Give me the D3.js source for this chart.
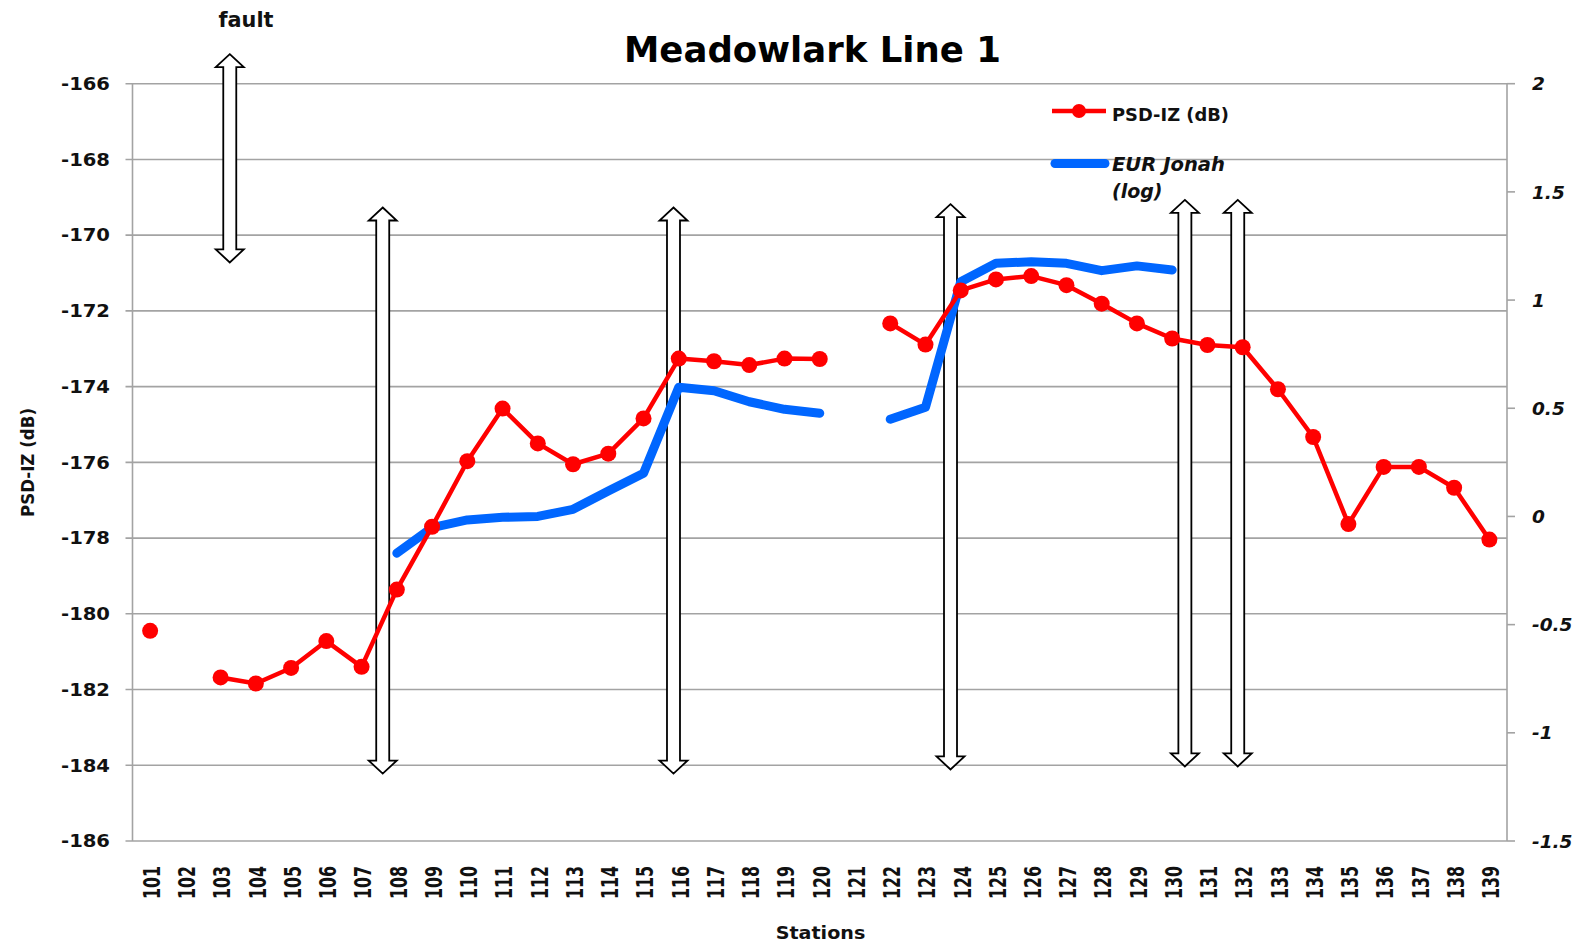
<!DOCTYPE html>
<html>
<head>
<meta charset="utf-8">
<script src="https://cdn.jsdelivr.net/npm/d3@7/dist/d3.min.js"></script>
<style>
  html, body { margin: 0; padding: 0; background: #ffffff; }
  svg { display: block; }
</style>
</head>
<body>
<svg id="chart" width="1596" height="942"></svg>
<script>
// ---------------- DATA ----------------
const stations = d3.range(101, 140).map(String);
const psdIZ = [
  -180.45, null, -181.68, -181.84, -181.43, -180.72, -181.40, -179.36, -177.70, -175.97,
  -174.58, -175.50, -176.05, -175.77, -174.84, -173.26, -173.33, -173.43, -173.26, -173.27,
  null, -172.33, -172.89, -171.46, -171.17, -171.08, -171.32, -171.81, -172.33, -172.73,
  -172.90, -172.96, -174.07, -175.33, -177.63, -176.12, -176.12, -176.67, -178.04
];
const eurJonah = [
  null, null, null, null, null, null, null, -0.170, -0.052, -0.016,
  -0.004, 0.000, 0.033, 0.118, 0.200, 0.597, 0.581, 0.530, 0.495, 0.477,
  null, 0.449, 0.505, 1.085, 1.170, 1.177, 1.170, 1.136, 1.158, 1.139,
  null, null, null, null, null, null, null, null, null
];
const leftTicks = [-166, -168, -170, -172, -174, -176, -178, -180, -182, -184, -186];
const rightTicks = [2, 1.5, 1, 0.5, 0, -0.5, -1, -1.5];
// annotation arrows: station position, top tip (dB), bottom tip (dB)
const arrowStation = [103.26, 107.6, 115.85, 123.71, 130.36, 131.86];
const arrowTop = [-165.22, -169.27, -169.27, -169.18, -169.07, -169.07];
const arrowBottom = [-170.72, -184.22, -184.22, -184.11, -184.03, -184.03];

// ---------------- LAYOUT ----------------
const L = 132.5, R = 1507, T = 83.7, B = 841;
const svg = d3.select("#chart");

const x = d3.scaleBand().domain(stations).range([L, R]).padding(0);
const xc = s => x(s) + x.bandwidth() / 2;
const xLin = d3.scaleLinear().domain([100.5, 139.5]).range([L, R]);
const yL = d3.scaleLinear().domain([-186, -166]).range([B, T]);
const yR = d3.scaleLinear().domain([-1.5, 2]).range([B, T]);

const gridColor = "#a3a3a3";

// gridlines + left ticks
svg.append("g").selectAll("line").data(leftTicks).join("line")
  .attr("x1", L - 7).attr("x2", R)
  .attr("y1", d => yL(d)).attr("y2", d => yL(d))
  .attr("stroke", gridColor).attr("stroke-width", 1.6);

// left axis line
svg.append("line").attr("x1", L).attr("x2", L).attr("y1", T).attr("y2", B)
  .attr("stroke", gridColor).attr("stroke-width", 1.6);
// right axis line + ticks
svg.append("line").attr("x1", R).attr("x2", R).attr("y1", T).attr("y2", B)
  .attr("stroke", gridColor).attr("stroke-width", 1.6);
svg.append("g").selectAll("line").data(rightTicks).join("line")
  .attr("x1", R).attr("x2", R + 8)
  .attr("y1", d => yR(d)).attr("y2", d => yR(d))
  .attr("stroke", gridColor).attr("stroke-width", 1.6);

// left tick labels
svg.append("g").selectAll("text").data(leftTicks).join("text")
  .attr("x", 110).attr("y", d => yL(d)).attr("dy", "0.36em")
  .attr("text-anchor", "end")
  .attr("font-family", "DejaVu Sans").attr("font-weight", "bold").attr("font-size", 17.5)
  .attr("textLength", 49).attr("lengthAdjust", "spacingAndGlyphs")
  .attr("fill", "#111")
  .text(d => String(d));

// right tick labels
svg.append("g").selectAll("text").data(rightTicks).join("text")
  .attr("x", 1532).attr("y", d => yR(d)).attr("dy", "0.36em")
  .attr("text-anchor", "start")
  .attr("font-family", "DejaVu Sans").attr("font-weight", "bold").attr("font-style", "italic")
  .attr("font-size", 18.5)
  .attr("fill", "#111")
  .text(d => String(d));

// x tick labels (rotated)
svg.append("g").selectAll("text").data(stations).join("text")
  .attr("transform", d => `translate(${xc(d) + 1.5},866) rotate(-90)`)
  .attr("dy", "0.36em")
  .attr("text-anchor", "end")
  .attr("font-family", "DejaVu Sans").attr("font-weight", "bold").attr("font-size", 23)
  .attr("textLength", 33).attr("lengthAdjust", "spacingAndGlyphs")
  .attr("fill", "#111")
  .text(d => d);

// arrows (hollow double-headed block arrows)
const hw = 14, sw = 6.5, hl = 13;
const arrowData = arrowStation.map((s, i) => ({ s, top: arrowTop[i], bot: arrowBottom[i] }));
svg.append("g").selectAll("path").data(arrowData).join("path")
  .attr("d", d => {
    const cx = xLin(d.s), yt = yL(d.top), yb = yL(d.bot);
    const pts = [
      [cx, yt], [cx + hw, yt + hl], [cx + sw, yt + hl], [cx + sw, yb - hl],
      [cx + hw, yb - hl], [cx, yb], [cx - hw, yb - hl], [cx - sw, yb - hl],
      [cx - sw, yt + hl], [cx - hw, yt + hl]
    ];
    return "M" + pts.map(p => p.join(",")).join("L") + "Z";
  })
  .attr("fill", "#ffffff").attr("stroke", "#000").attr("stroke-width", 1.8)
  .attr("stroke-linejoin", "miter");

// blue series (right axis)
const blueLine = d3.line()
  .defined(d => d.v !== null)
  .x(d => xc(d.s)).y(d => yR(d.v));
svg.append("path")
  .datum(stations.map((s, i) => ({ s, v: eurJonah[i] })))
  .attr("d", blueLine)
  .attr("fill", "none").attr("stroke", "#0066ff").attr("stroke-width", 9)
  .attr("stroke-linejoin", "round").attr("stroke-linecap", "round");

// red series (left axis)
const redData = stations.map((s, i) => ({ s, v: psdIZ[i] }));
const redLine = d3.line()
  .defined(d => d.v !== null)
  .x(d => xc(d.s)).y(d => yL(d.v));
svg.append("path")
  .datum(redData)
  .attr("d", redLine)
  .attr("fill", "none").attr("stroke", "#ff0000").attr("stroke-width", 4.5)
  .attr("stroke-linejoin", "round");
svg.append("g").selectAll("circle").data(redData.filter(d => d.v !== null)).join("circle")
  .attr("cx", d => xc(d.s)).attr("cy", d => yL(d.v)).attr("r", 8)
  .attr("fill", "#ff0000");

// legend
svg.append("line").attr("x1", 1052).attr("x2", 1106).attr("y1", 111).attr("y2", 111)
  .attr("stroke", "#ff0000").attr("stroke-width", 4.5);
svg.append("circle").attr("cx", 1079).attr("cy", 111).attr("r", 7).attr("fill", "#ff0000");
svg.append("text").attr("x", 1112).attr("y", 120.5)
  .attr("font-family", "DejaVu Sans").attr("font-weight", "bold").attr("font-size", 18.5)
  .attr("textLength", 117).attr("lengthAdjust", "spacingAndGlyphs")
  .attr("fill", "#111").text("PSD-IZ (dB)");
svg.append("line").attr("x1", 1055).attr("x2", 1105).attr("y1", 163.5).attr("y2", 163.5)
  .attr("stroke", "#0066ff").attr("stroke-width", 9).attr("stroke-linecap", "round");
svg.append("text").attr("x", 1112).attr("y", 171)
  .attr("font-family", "DejaVu Sans").attr("font-weight", "bold").attr("font-style", "italic")
  .attr("font-size", 19)
  .attr("textLength", 113).attr("lengthAdjust", "spacingAndGlyphs")
  .attr("fill", "#111").text("EUR Jonah");
svg.append("text").attr("x", 1112).attr("y", 198)
  .attr("font-family", "DejaVu Sans").attr("font-weight", "bold").attr("font-style", "italic")
  .attr("font-size", 19)
  .attr("fill", "#111").text("(log)");

// title
svg.append("text").attr("x", 812.5).attr("y", 61.5).attr("text-anchor", "middle")
  .attr("font-family", "DejaVu Sans").attr("font-weight", "bold").attr("font-size", 36)
  .attr("textLength", 377).attr("lengthAdjust", "spacingAndGlyphs")
  .attr("fill", "#000").text("Meadowlark Line 1");

// fault label
svg.append("text").attr("x", 218.5).attr("y", 27)
  .attr("font-family", "DejaVu Sans").attr("font-weight", "bold").attr("font-size", 21)
  .attr("textLength", 55).attr("lengthAdjust", "spacingAndGlyphs")
  .attr("fill", "#111").text("fault");

// axis titles
svg.append("text").attr("transform", "translate(34,462.5) rotate(-90)")
  .attr("text-anchor", "middle")
  .attr("font-family", "DejaVu Sans").attr("font-weight", "bold").attr("font-size", 17)
  .attr("textLength", 109).attr("lengthAdjust", "spacingAndGlyphs")
  .attr("fill", "#111").text("PSD-IZ (dB)");
svg.append("text").attr("x", 820.5).attr("y", 938.5).attr("text-anchor", "middle")
  .attr("font-family", "DejaVu Sans").attr("font-weight", "bold").attr("font-size", 18)
  .attr("textLength", 89.6).attr("lengthAdjust", "spacingAndGlyphs")
  .attr("fill", "#111").text("Stations");
</script>
</body>
</html>
